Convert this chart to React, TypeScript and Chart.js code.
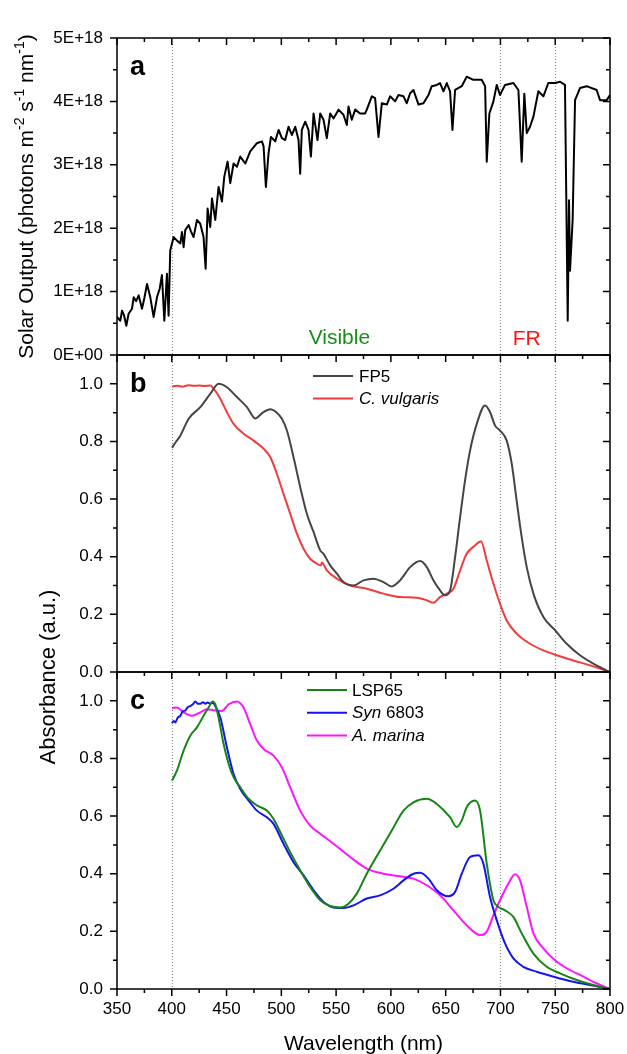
import React, { useEffect, useRef } from 'react';
import { Chart, registerables } from 'chart.js';

Chart.register(...registerables);

const FONT = "'Liberation Sans', Arial, Helvetica, sans-serif";

// ---------- Panel a: solar output (values in units of 1E+18 photons m-2 s-1 nm-1)
const solarWavelength = [
  350.0, 353.0, 354.6, 356.5, 358.5, 360.6, 363.7, 365.2, 367.5, 369.8, 372.8, 375.0, 377.4, 380.4, 383.4,
  386.5, 389.0, 391.0, 393.2, 395.6, 397.1, 398.6, 401.7, 405.0, 407.8, 409.3, 410.8, 412.3, 415.4, 417.5,
  419.9, 423.0, 426.0, 429.0, 430.9, 432.7, 435.1, 436.7, 439.7, 442.7, 445.8, 447.9, 450.9, 453.4, 456.4,
  459.5, 462.5, 467.1, 471.6, 477.7, 482.3, 483.8, 485.9, 488.3, 490.5, 494.4, 497.5, 500.5, 503.5, 506.6,
  509.6, 512.7, 515.7, 517.2, 518.7, 521.8, 524.8, 527.0, 529.4, 533.0, 535.5, 538.5, 541.5, 544.6, 547.6,
  552.2, 556.7, 559.8, 561.3, 564.3, 567.4, 571.9, 576.5, 578.0, 582.6, 585.6, 588.7, 591.7, 596.3, 599.3,
  603.9, 606.9, 611.5, 614.5, 617.6, 620.6, 625.2, 629.7, 634.3, 637.3, 641.9, 644.9, 648.0, 651.0, 654.0,
  656.2, 658.6, 664.7, 669.2, 675.3, 682.9, 686.0, 687.5, 689.9, 693.6, 696.6, 699.6, 704.2, 711.8, 716.4,
  719.4, 721.8, 724.0, 727.0, 730.1, 734.6, 739.2, 743.7, 749.8, 754.4, 758.9, 761.4, 762.6, 763.5, 765.9,
  768.1, 772.6, 778.7, 787.8, 790.9, 797.0, 800.0,
];
const solarOutputE18 = [
  0.60, 0.54, 0.70, 0.62, 0.46, 0.65, 0.73, 0.91, 0.85, 0.94, 0.73, 0.90, 1.12, 0.91, 0.60,
  0.91, 1.05, 1.26, 0.54, 1.28, 0.62, 1.65, 1.86, 1.80, 1.76, 1.94, 1.70, 1.97, 2.05, 1.95,
  1.86, 2.13, 2.07, 1.86, 1.36, 2.31, 2.02, 2.47, 2.13, 2.65, 2.42, 2.81, 3.05, 2.71, 3.02,
  2.97, 3.13, 3.02, 3.21, 3.34, 3.37, 3.29, 2.65, 3.18, 3.44, 3.37, 3.55, 3.42, 3.39, 3.60,
  3.47, 3.60, 3.39, 2.86, 3.55, 3.68, 3.55, 3.13, 3.81, 3.39, 3.81, 3.71, 3.42, 3.81, 3.73,
  3.87, 3.79, 3.63, 3.92, 3.71, 3.87, 3.81, 3.81, 3.87, 4.08, 4.05, 3.44, 3.97, 3.95, 4.08,
  4.00, 4.10, 4.08, 3.97, 4.13, 4.18, 3.95, 3.97, 4.10, 4.24, 4.26, 4.29, 4.16, 4.29, 4.16,
  3.55, 4.18, 4.24, 4.39, 4.34, 4.34, 4.24, 3.05, 3.81, 4.00, 4.26, 4.10, 4.26, 4.29, 4.18,
  3.05, 4.12, 3.50, 3.60, 3.76, 4.16, 4.08, 4.29, 4.29, 4.31, 4.26, 0.54, 2.44, 1.33, 2.13,
  4.02, 4.21, 4.24, 4.18, 4.02, 4.02, 4.10,
];

// ---------- Panel b
const fp5Wavelength = [
  400.2, 404.0, 407.8, 415.4, 426.0, 435.1, 442.7, 450.3, 459.5, 468.6, 476.2, 483.0, 489.9, 495.9, 500.5,
  505.1, 511.1, 517.2, 523.3, 529.4, 535.5, 538.5, 544.6, 550.7, 556.7, 565.9, 575.0, 584.1, 593.2, 600.8,
  608.4, 617.6, 626.7, 632.8, 638.8, 644.9, 649.5, 654.0, 658.6, 663.2, 667.7, 672.3, 678.4, 686.0, 690.5,
  695.1, 699.6, 705.7, 710.3, 714.8, 719.4, 724.0, 730.1, 739.2, 749.8, 760.5, 772.6, 784.8, 800.0,
];
const fp5Absorbance = [
  0.778, 0.800, 0.820, 0.879, 0.919, 0.965, 1.000, 0.988, 0.954, 0.919, 0.880, 0.900, 0.912, 0.900, 0.879,
  0.838, 0.746, 0.642, 0.549, 0.486, 0.422, 0.410, 0.370, 0.341, 0.312, 0.300, 0.318, 0.324, 0.312, 0.297,
  0.318, 0.364, 0.385, 0.364, 0.318, 0.283, 0.266, 0.283, 0.399, 0.538, 0.665, 0.769, 0.861, 0.925, 0.902,
  0.855, 0.838, 0.803, 0.723, 0.595, 0.468, 0.364, 0.272, 0.191, 0.145, 0.098, 0.058, 0.029, 0.000,
];
const cVulgarisWavelength = [
  400.2, 405.0, 410.0, 415.0, 420.0, 425.0, 430.0, 435.1, 438.2, 444.3, 450.3, 456.4, 465.5, 474.7, 483.8,
  489.9, 495.9, 502.0, 508.1, 514.2, 520.3, 526.3, 532.4, 536.1, 537.0, 541.5, 550.7, 562.8, 578.0, 593.2,
  608.4, 623.6, 632.8, 638.8, 644.9, 651.0, 657.1, 663.2, 669.2, 676.8, 682.3, 687.5, 693.6, 699.6, 705.7,
  714.8, 727.0, 739.2, 751.3, 766.5, 781.7, 800.0,
];
const cVulgarisAbsorbance = [
  0.991, 0.993, 0.990, 0.995, 0.993, 0.994, 0.992, 0.994, 0.983, 0.948, 0.902, 0.861, 0.827, 0.803, 0.775,
  0.746, 0.688, 0.618, 0.549, 0.480, 0.428, 0.393, 0.376, 0.370, 0.380, 0.353, 0.324, 0.300, 0.289, 0.272,
  0.260, 0.258, 0.249, 0.240, 0.260, 0.272, 0.289, 0.353, 0.410, 0.439, 0.454, 0.387, 0.306, 0.237, 0.179,
  0.133, 0.098, 0.075, 0.058, 0.040, 0.023, 0.000,
];

// ---------- Panel c
const lsp65Wavelength = [
  400.2, 404.7, 410.8, 416.9, 423.0, 429.0, 433.6, 437.3, 439.7, 442.7, 447.3, 451.9, 456.4, 462.5, 470.1,
  477.7, 486.8, 492.9, 500.5, 508.1, 517.2, 526.3, 535.5, 544.6, 553.7, 561.3, 568.9, 578.0, 590.2, 600.8,
  611.5, 620.6, 632.8, 641.9, 654.0, 660.1, 664.7, 669.2, 676.8, 681.4, 687.5, 693.6, 698.1, 704.2, 711.8,
  719.4, 730.1, 742.2, 754.4, 769.6, 784.8, 800.0,
];
const lsp65Absorbance = [
  0.723, 0.758, 0.827, 0.879, 0.908, 0.948, 0.977, 0.998, 0.988, 0.942, 0.850, 0.781, 0.735, 0.700, 0.660,
  0.637, 0.619, 0.590, 0.533, 0.475, 0.412, 0.354, 0.308, 0.288, 0.283, 0.296, 0.331, 0.400, 0.481, 0.550,
  0.619, 0.648, 0.660, 0.642, 0.596, 0.562, 0.585, 0.631, 0.654, 0.619, 0.435, 0.308, 0.285, 0.273, 0.250,
  0.193, 0.123, 0.077, 0.054, 0.031, 0.014, 0.000,
];
const syn6803Wavelength = [
  400.2, 401.7, 403.2, 405.3, 407.8, 410.2, 412.3, 414.5, 416.9, 419.3, 421.5, 423.6, 426.0, 428.5, 430.6,
  432.7, 435.1, 437.6, 439.7, 444.3, 450.3, 456.4, 462.5, 470.1, 477.7, 486.8, 492.9, 502.0, 511.1, 520.3,
  529.4, 538.5, 547.6, 556.7, 565.9, 578.0, 590.2, 602.3, 611.5, 620.6, 626.7, 634.3, 641.9, 652.5, 658.6,
  664.7, 672.3, 679.9, 684.4, 690.5, 696.6, 704.2, 711.8, 720.9, 733.1, 748.3, 766.5, 781.7, 800.0,
];
const syn6803Absorbance = [
  0.922, 0.930, 0.925, 0.941, 0.948, 0.964, 0.966, 0.978, 0.982, 0.988, 0.998, 0.990, 0.990, 0.995, 0.990,
  0.994, 0.990, 0.992, 0.982, 0.942, 0.839, 0.746, 0.694, 0.654, 0.619, 0.596, 0.573, 0.504, 0.440, 0.394,
  0.343, 0.302, 0.283, 0.281, 0.290, 0.314, 0.325, 0.348, 0.377, 0.400, 0.403, 0.383, 0.343, 0.322, 0.337,
  0.400, 0.458, 0.464, 0.435, 0.319, 0.239, 0.158, 0.106, 0.077, 0.060, 0.043, 0.025, 0.014, 0.000,
];
const aMarinaWavelength = [
  400.2, 404.7, 410.8, 418.4, 426.0, 432.1, 438.2, 445.8, 451.9, 459.5, 465.5, 471.6, 477.7, 483.8, 492.9,
  500.5, 508.1, 517.2, 526.3, 535.5, 547.6, 562.8, 578.0, 593.2, 608.4, 620.6, 632.8, 644.9, 657.1, 669.2,
  681.4, 687.5, 693.6, 699.6, 707.3, 713.3, 717.9, 724.0, 730.1, 739.2, 749.8, 760.5, 775.7, 787.8, 800.0,
];
const aMarinaAbsorbance = [
  0.975, 0.977, 0.960, 0.948, 0.960, 0.971, 0.967, 0.965, 0.988, 0.998, 0.977, 0.919, 0.862, 0.833, 0.810,
  0.769, 0.700, 0.619, 0.567, 0.539, 0.504, 0.458, 0.418, 0.400, 0.391, 0.383, 0.360, 0.325, 0.273, 0.221,
  0.187, 0.199, 0.256, 0.308, 0.366, 0.398, 0.377, 0.285, 0.193, 0.141, 0.100, 0.072, 0.043, 0.020, 0.000,
];

const guideWavelengths = [400, 700, 750];
const xTickStep = 50;

type Seg = { t: string; italic?: boolean; sup?: boolean; bold?: boolean };

function toPoints(xs: number[], ys: number[], k = 1) {
  return xs.map((x, i) => ({ x, y: ys[i] * k }));
}

function drawRich(
  ctx: CanvasRenderingContext2D,
  segs: Seg[],
  x: number,
  y: number,
  size: number,
  align: 'left' | 'center',
  supSize = size * 0.65,
) {
  const fontOf = (s: Seg) =>
    `${s.italic ? 'italic ' : ''}${s.bold ? 'bold ' : ''}${s.sup ? supSize : size}px ${FONT}`;
  let total = 0;
  for (const s of segs) {
    ctx.font = fontOf(s);
    total += ctx.measureText(s.t).width;
  }
  let cx = align === 'center' ? x - total / 2 : x;
  ctx.textAlign = 'left';
  for (const s of segs) {
    ctx.font = fontOf(s);
    ctx.fillText(s.t, cx, s.sup ? y - size * 0.42 : y);
    cx += ctx.measureText(s.t).width;
  }
}

const decorPlugin = {
  id: 'decor',
  beforeDatasetsDraw(chart: any) {
    const { ctx, chartArea } = chart;
    const xs = chart.scales.x;
    ctx.save();
    ctx.strokeStyle = '#8a8a8a';
    ctx.lineWidth = 1;
    ctx.setLineDash([1, 2]);
    for (const w of guideWavelengths) {
      const px = Math.round(xs.getPixelForValue(w)) + 0.5;
      ctx.beginPath();
      ctx.moveTo(px, chartArea.top);
      ctx.lineTo(px, chartArea.bottom);
      ctx.stroke();
    }
    ctx.restore();
  },
  afterDraw(chart: any) {
    const ctx: CanvasRenderingContext2D = chart.ctx;
    const xs = chart.scales.x;
    const L = chart.chartArea.left;
    const R = chart.chartArea.right;
    const panels = [
      { id: 'ya', minor: 0.5e18 },
      { id: 'yb', minor: 0.1 },
      { id: 'yc', minor: 0.1 },
    ];
    ctx.save();
    ctx.setLineDash([]);
    ctx.strokeStyle = '#000';
    ctx.lineWidth = 1.5;
    panels.forEach((p, idx) => {
      const s = chart.scales[p.id];
      const T = s.top;
      const B = s.bottom;
      ctx.strokeRect(L, T, R - L, B - T);
      ctx.beginPath();
      for (let w = 350; w <= 800; w += xTickStep / 2) {
        const px = xs.getPixelForValue(w);
        const len = w % xTickStep === 0 ? 7 : 4;
        ctx.moveTo(px, T);
        ctx.lineTo(px, T + len);
        if (idx === 2) {
          ctx.moveTo(px, B);
          ctx.lineTo(px, B + len);
        }
      }
      for (let i = 0; i <= 10; i++) {
        const py = s.getPixelForValue(i * p.minor);
        const len = i % 2 === 0 ? 7 : 4;
        ctx.moveTo(L - len, py);
        ctx.lineTo(L, py);
        ctx.moveTo(R - len, py);
        ctx.lineTo(R, py);
      }
      ctx.stroke();
    });

    const ya = chart.scales.ya;
    const yb = chart.scales.yb;
    const yc = chart.scales.yc;

    // panel letters
    ctx.fillStyle = '#000';
    ctx.textBaseline = 'alphabetic';
    ctx.textAlign = 'left';
    ctx.font = `bold 27px ${FONT}`;
    ctx.fillText('a', L + 13, ya.top + 37);
    ctx.fillText('b', L + 13, yb.top + 37);
    ctx.fillText('c', L + 13, yc.top + 37);

    // region labels
    ctx.font = `21px ${FONT}`;
    ctx.textAlign = 'center';
    ctx.fillStyle = '#178f17';
    ctx.fillText('Visible', xs.getPixelForValue(553), ya.bottom - 11);
    ctx.fillStyle = '#ff1414';
    ctx.fillText('FR', xs.getPixelForValue(724), ya.bottom - 10);

    // legends
    const legend = (
      rows: { color: string; segs: Seg[] }[],
      x0: number,
      x1: number,
      tx: number,
      y0: number,
      dy: number,
    ) => {
      rows.forEach((r, i) => {
        const y = y0 + i * dy;
        ctx.strokeStyle = r.color;
        ctx.lineWidth = 2;
        ctx.beginPath();
        ctx.moveTo(x0, y);
        ctx.lineTo(x1, y);
        ctx.stroke();
        ctx.fillStyle = '#000';
        ctx.textBaseline = 'middle';
        drawRich(ctx, r.segs, tx, y + 1, 17, 'left');
      });
    };
    legend(
      [
        { color: '#454545', segs: [{ t: 'FP5' }] },
        { color: '#f23c3c', segs: [{ t: 'C. vulgaris', italic: true }] },
      ],
      313, 353, 359, yb.top + 21, 22.5,
    );
    legend(
      [
        { color: '#168416', segs: [{ t: 'LSP65' }] },
        { color: '#1414f0', segs: [{ t: 'Syn', italic: true }, { t: ' 6803' }] },
        { color: '#ff14ff', segs: [{ t: 'A. marina', italic: true }] },
      ],
      307, 347, 352, yc.top + 18, 22.7,
    );

    // axis titles
    ctx.fillStyle = '#000';
    ctx.textBaseline = 'alphabetic';
    ctx.save();
    ctx.translate(33, (ya.top + ya.bottom) / 2);
    ctx.rotate(-Math.PI / 2);
    drawRich(
      ctx,
      [
        { t: 'Solar Output (photons m' },
        { t: '-2', sup: true },
        { t: ' s' },
        { t: '-1', sup: true },
        { t: ' nm' },
        { t: '-1', sup: true },
        { t: ')' },
      ],
      0, 0, 21, 'center', 14,
    );
    ctx.restore();

    ctx.save();
    ctx.translate(55, (yb.top + yc.bottom) / 2 + 5);
    ctx.rotate(-Math.PI / 2);
    drawRich(ctx, [{ t: 'Absorbance (a.u.)' }], 0, 0, 22, 'center');
    ctx.restore();

    drawRich(ctx, [{ t: 'Wavelength (nm)' }], (L + R) / 2, 1050, 21, 'center');
    ctx.restore();
  },
};

export default function App() {
  const ref = useRef<HTMLCanvasElement>(null);
  useEffect(() => {
    document.body.style.margin = '0';
    const canvas = ref.current;
    if (!canvas) return;
    const tickFont = { family: FONT, size: 17 };
    const yCommon = {
      type: 'linear' as const,
      position: 'left' as const,
      stack: 'panels',
      stackWeight: 1,
      grid: { display: false, drawTicks: false },
      border: { display: false },
      afterFit: (s: any) => {
        s.width = 117;
        s.paddingTop = 0;
        s.paddingBottom = 0;
      },
    };
    const absTicks = {
      stepSize: 0.2,
      includeBounds: false,
      padding: 14,
      color: '#000',
      font: tickFont,
      callback: (v: any) => Number(v).toFixed(1),
    };
    const chart = new Chart(canvas, {
      type: 'line',
      data: {
        datasets: [
          {
            label: 'Solar',
            data: toPoints(solarWavelength, solarOutputE18, 1e18),
            yAxisID: 'ya',
            borderColor: '#000',
            borderWidth: 2,
            tension: 0,
          },
          {
            label: 'FP5',
            data: toPoints(fp5Wavelength, fp5Absorbance),
            yAxisID: 'yb',
            borderColor: '#454545',
            borderWidth: 2,
            cubicInterpolationMode: 'monotone',
          },
          {
            label: 'C. vulgaris',
            data: toPoints(cVulgarisWavelength, cVulgarisAbsorbance),
            yAxisID: 'yb',
            borderColor: '#f23c3c',
            borderWidth: 2,
            cubicInterpolationMode: 'monotone',
          },
          {
            label: 'LSP65',
            data: toPoints(lsp65Wavelength, lsp65Absorbance),
            yAxisID: 'yc',
            borderColor: '#168416',
            borderWidth: 2,
            cubicInterpolationMode: 'monotone',
          },
          {
            label: 'Syn 6803',
            data: toPoints(syn6803Wavelength, syn6803Absorbance),
            yAxisID: 'yc',
            borderColor: '#1414f0',
            borderWidth: 2,
            cubicInterpolationMode: 'monotone',
          },
          {
            label: 'A. marina',
            data: toPoints(aMarinaWavelength, aMarinaAbsorbance),
            yAxisID: 'yc',
            borderColor: '#ff14ff',
            borderWidth: 2,
            cubicInterpolationMode: 'monotone',
          },
        ],
      },
      options: {
        animation: false,
        responsive: false,
        devicePixelRatio: 1,
        layout: { padding: { left: 0, right: 17, top: 38, bottom: 0 } },
        elements: { point: { radius: 0 }, line: { borderJoinStyle: 'round' } },
        plugins: { legend: { display: false }, tooltip: { enabled: false } },
        scales: {
          x: {
            type: 'linear',
            position: 'bottom',
            min: 350,
            max: 800,
            grid: { display: false, drawTicks: false },
            border: { display: false },
            ticks: {
              stepSize: xTickStep,
              padding: 10,
              color: '#000',
              font: tickFont,
              maxRotation: 0,
              autoSkip: false,
            },
            afterFit: (s: any) => {
              s.height = 65;
              s.paddingLeft = 0;
              s.paddingRight = 0;
            },
          },
          // left boxes are stacked in reverse order, so the bottom panel comes first
          yc: { ...yCommon, min: 0, max: 1.1, ticks: absTicks },
          yb: { ...yCommon, min: 0, max: 1.1, ticks: absTicks },
          ya: {
            ...yCommon,
            min: 0,
            max: 5e18,
            ticks: {
              stepSize: 1e18,
              includeBounds: false,
              padding: 14,
              color: '#000',
              font: tickFont,
              callback: (v: any) => (Number(v) === 0 ? '0E+00' : `${Math.round(Number(v) / 1e18)}E+18`),
            },
          },
        },
      } as any,
      plugins: [decorPlugin],
    });
    return () => chart.destroy();
  }, []);
  return (
    <div style={{ width: 627, height: 1054, overflow: 'hidden', background: '#fff' }}>
      <canvas ref={ref} width={627} height={1054} style={{ display: 'block', width: 627, height: 1054 }} />
    </div>
  );
}
